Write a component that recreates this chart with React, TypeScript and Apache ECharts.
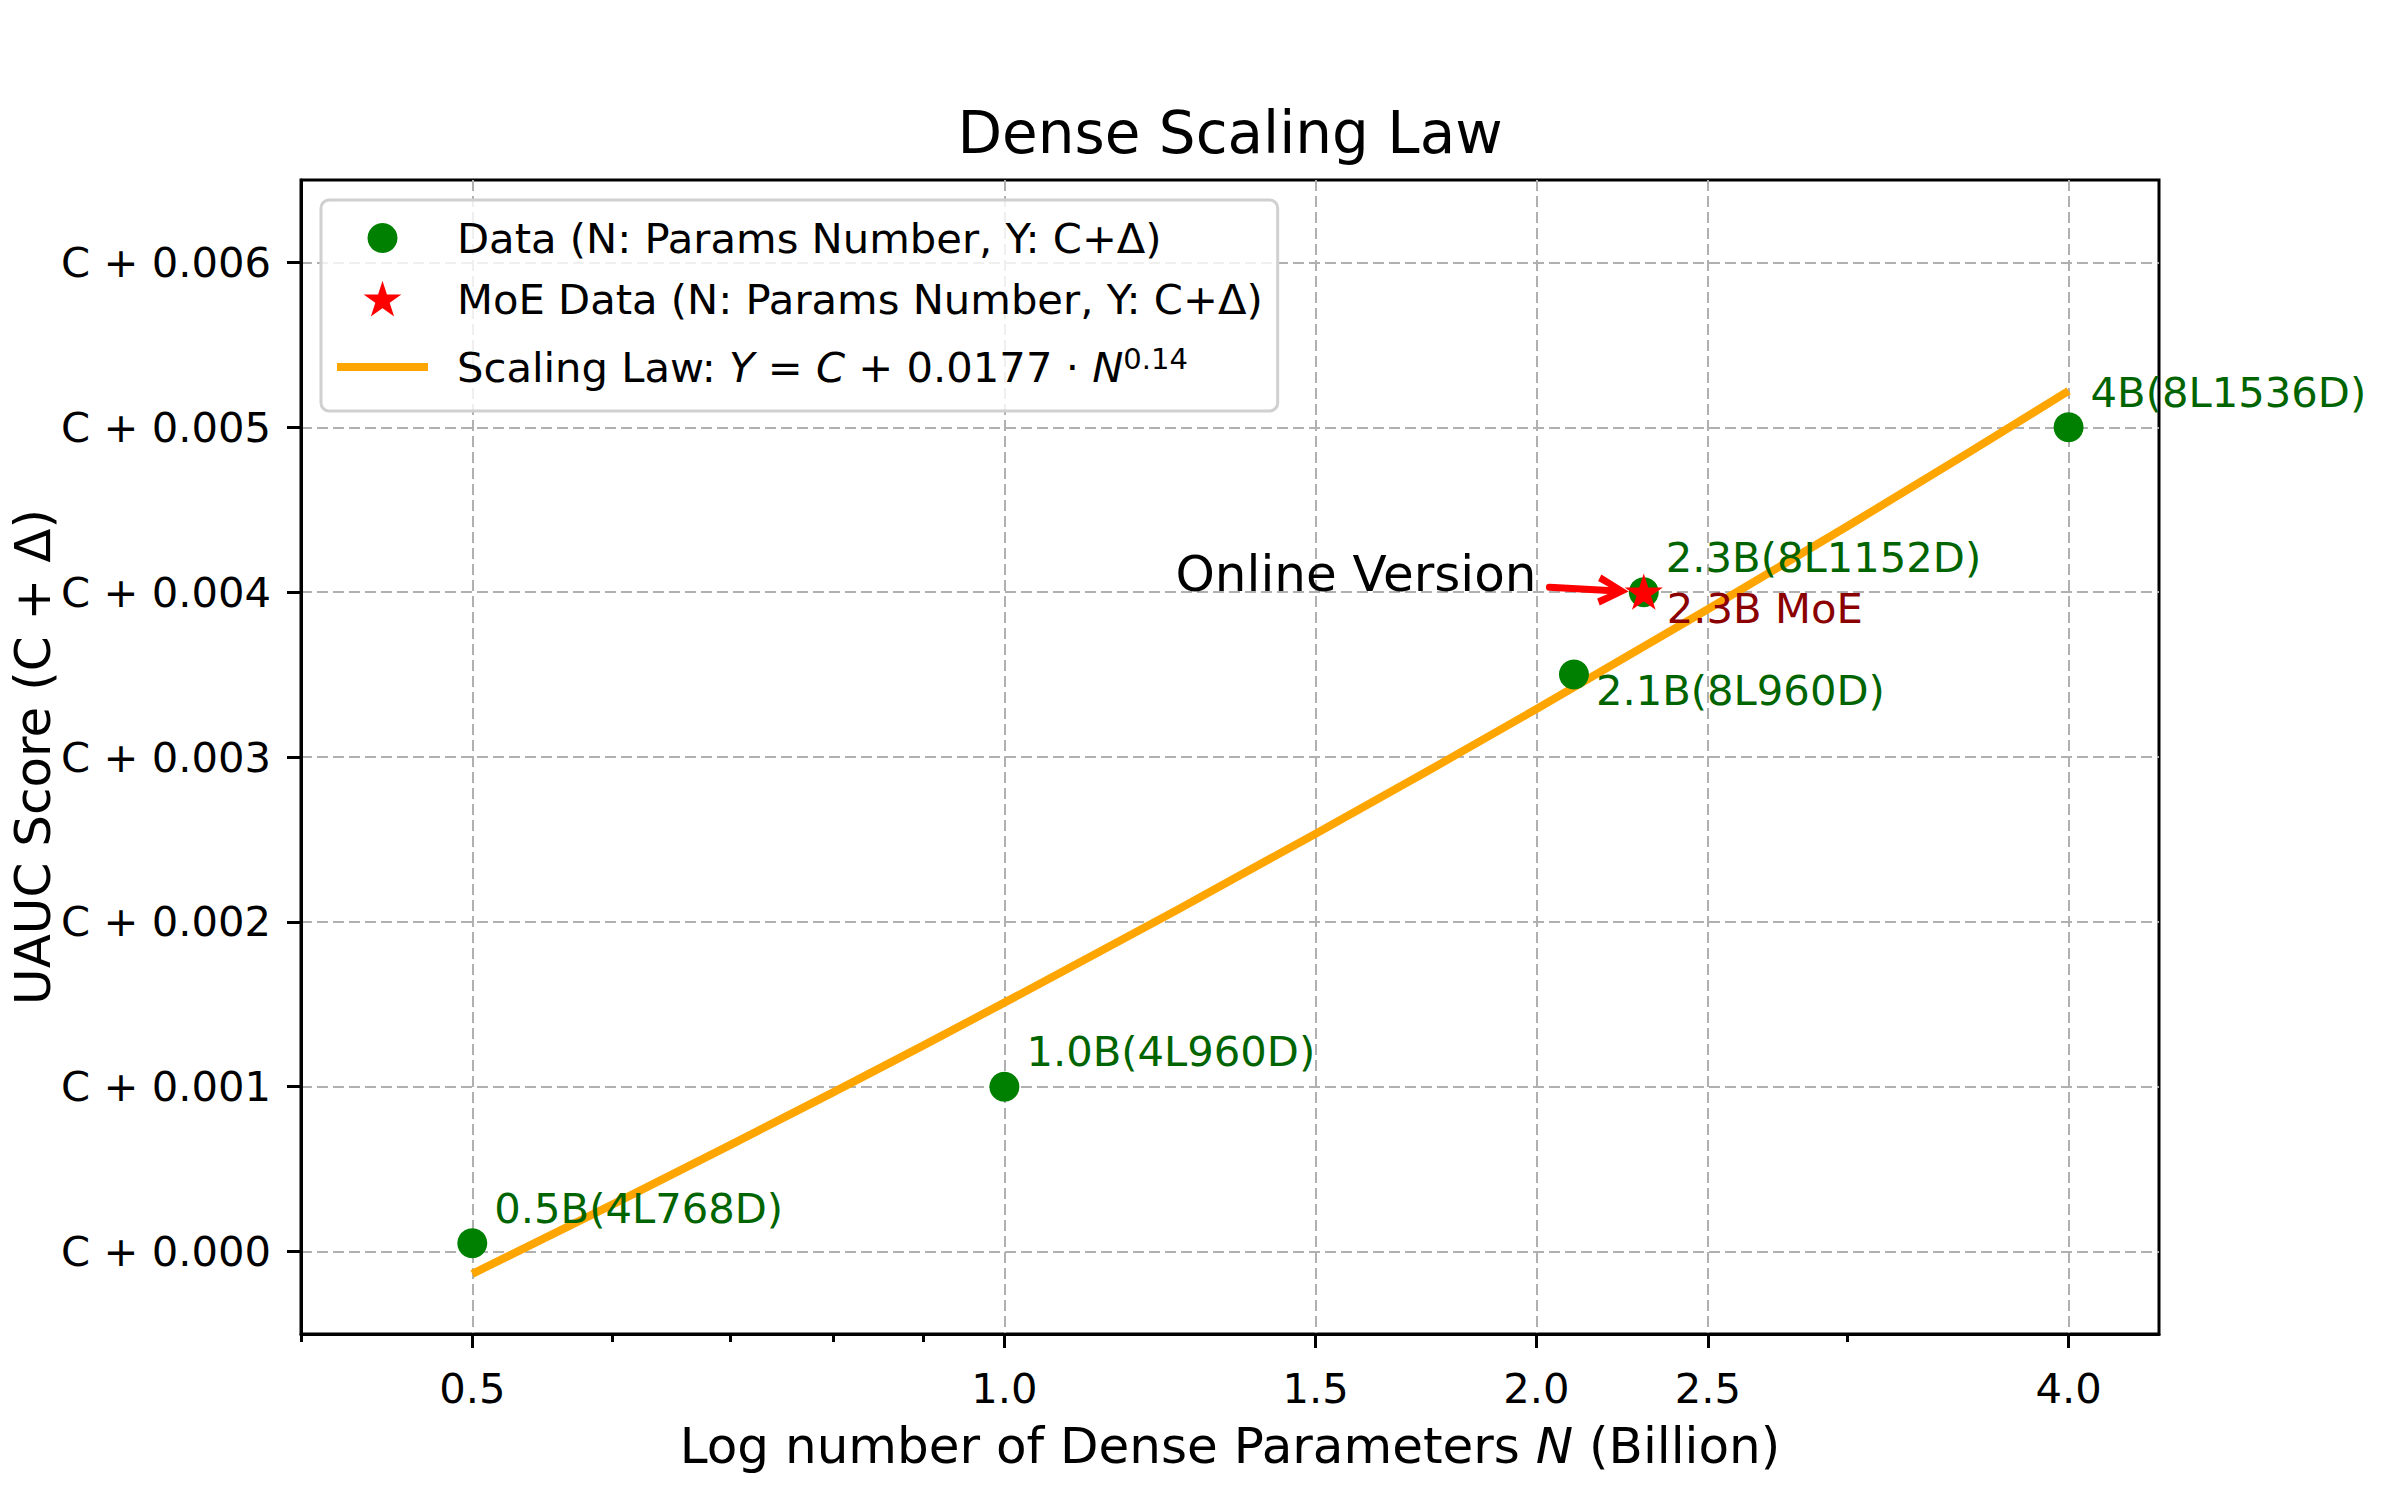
import React, { useEffect, useRef } from "react";
import * as echarts from "echarts";

const FONT = "DejaVu Sans";

const TITLE = "Dense Scaling Law";
const X_NAME = "Log number of Dense Parameters {i|N} (Billion)";
const Y_NAME = "UAUC Score (C + Δ)";

const DATA_NAME = "Data (N: Params Number, Y: C+Δ)";
const MOE_NAME = "MoE Data (N: Params Number, Y: C+Δ)";
const LAW_NAME = "Scaling Law: Y = C + 0.0177 · N^0.14";
const LAW_RICH = "{t|Scaling Law: }{i|Y}{t| = }{i|C}{t| + 0.0177 · }{i|N}{s|0.14}";

// Dense model points
const denseN = [0.5, 1.0, 2.1, 2.3, 4.0];
const denseY = [0.00005, 0.001, 0.0035, 0.004, 0.005];
const denseLabels = ["0.5B(4L768D)", "1.0B(4L960D)", "2.1B(8L960D)", "2.3B(8L1152D)", "4B(8L1536D)"];
const denseLabelBelow = [false, false, true, false, false];

// MoE point
const moeN = [2.3];
const moeY = [0.004];
const moeLabels = ["2.3B MoE"];

// Scaling law curve
const lawN = [0.5, 0.6, 0.7, 0.8, 0.9, 1.0, 1.1, 1.25, 1.5, 1.75, 2.0, 2.5, 3.0, 3.5, 4.0];
const lawY = [
  -0.000135, 0.000285, 0.000647, 0.000966, 0.001251, 0.00151, 0.001747, 0.002068, 0.002535, 0.002937, 0.003291,
  0.003896, 0.004401, 0.004837, 0.005221,
];

// Axes
const xMin = 0.4;
const xMax = 4.5;
const xTicks = [0.5, 1.0, 1.5, 2.0, 2.5, 4.0];
const xMinorTicks = [0.4, 0.6, 0.7, 0.8, 0.9, 3.0];
const yMin = -0.0005;
const yMax = 0.0065;
const yTicks = [0, 0.001, 0.002, 0.003, 0.004, 0.005, 0.006];

// Annotation
const annotationText = "Online Version";
const annotationAt = [2.0, 0.00411];
const arrowFrom = [2.034, 0.00403];
const arrowTo = [2.21, 0.004009];

const STAR =
  "path://M50 0 L61.23 34.55 L97.55 34.55 L68.17 55.9 L79.39 90.45 L50 69.1 L20.61 90.45 L31.83 55.9 L2.45 34.55 L38.77 34.55 Z";
const CHEVRON = "path://M15 0 L29.68 28.54 L23.32 31.46 L15 13.38 L6.68 31.46 L0.32 28.54 Z";

const GRID_LINE = { color: "#b0b0b0", width: 2, type: [11, 5] as any };
const FS = 41.7;

export default function App() {
  const ref = useRef<HTMLDivElement>(null);

  useEffect(() => {
    document.body.style.margin = "0";
    document.body.style.overflow = "hidden";
    if (!ref.current) return;
    const chart = echarts.init(ref.current, null, { renderer: "svg" });

    const option: any = {
      animation: false,
      backgroundColor: "#ffffff",
      textStyle: { fontFamily: FONT },
      title: {
        text: TITLE,
        left: 1230,
        top: 104,
        textAlign: "center",
        padding: 0,
        textStyle: { fontSize: 58, fontWeight: "normal", color: "#000", fontFamily: FONT },
      },
      grid: {
        left: 301,
        right: 241,
        top: 180,
        bottom: 166,
        show: true,
        borderColor: "#000",
        borderWidth: 3,
        backgroundColor: "transparent",
        containLabel: false,
        outerBoundsMode: "none",
      },
      legend: {
        orient: "vertical",
        left: 321,
        top: 200,
        itemWidth: 91,
        itemHeight: 30,
        itemGap: 19,
        padding: [17, 15, 16, 12],
        backgroundColor: "rgba(255,255,255,0.8)",
        borderColor: "#d0d0d0",
        borderWidth: 3,
        borderRadius: 8,
        selectedMode: false,
        z: 10,
        textStyle: {
          fontSize: FS,
          lineHeight: 42,
          color: "#000",
          fontFamily: FONT,
          padding: [0, 0, 0, 24],
          rich: {
            t: { fontSize: FS, lineHeight: 56, color: "#000", fontFamily: FONT },
            i: { fontSize: FS, lineHeight: 56, color: "#000", fontFamily: FONT, fontStyle: "italic" },
            s: { fontSize: 29, lineHeight: 29, color: "#000", fontFamily: FONT, padding: [0, 0, 16, 0] },
          },
        },
        formatter: (name: string) => (name === LAW_NAME ? LAW_RICH : name),
        data: [
          { name: DATA_NAME, icon: "circle" },
          {
            name: MOE_NAME,
            icon: STAR,
            itemStyle: { color: "#FF0000", borderColor: "#FF0000", borderWidth: 2 },
          },
          {
            name: LAW_NAME,
            itemStyle: { opacity: 0, color: "rgba(0,0,0,0)", borderWidth: 0 },
            lineStyle: { width: 8, color: "#FFA500", opacity: 1, cap: "butt" },
          },
        ],
      },
      xAxis: [
        {
          type: "log",
          min: xMin,
          max: xMax,
          gridIndex: 0,
          position: "bottom",
          name: X_NAME,
          nameLocation: "middle",
          nameGap: 87,
          nameMoveOverlap: false,
          nameTextStyle: {
            fontSize: 50,
            color: "#000",
            fontFamily: FONT,
            rich: { i: { fontSize: 50, fontStyle: "italic", color: "#000", fontFamily: FONT } },
          },
          axisLine: { show: true, onZero: false, lineStyle: { color: "#000", width: 3 } },
          axisTick: {
            show: true,
            inside: false,
            length: 14,
            customValues: xTicks,
            lineStyle: { color: "#000", width: 3 },
          },
          axisLabel: {
            show: true,
            customValues: xTicks,
            margin: 33,
            fontSize: FS,
            color: "#000",
            fontFamily: FONT,
            formatter: (v: number) => v.toFixed(1),
          },
          splitLine: { show: true, lineStyle: GRID_LINE },
          minorTick: { show: false },
          minorSplitLine: { show: false },
        },
        {
          type: "log",
          min: xMin,
          max: xMax,
          gridIndex: 0,
          position: "bottom",
          axisLine: { show: false, onZero: false },
          axisLabel: { show: false },
          splitLine: { show: false },
          axisTick: {
            show: true,
            inside: false,
            length: 8,
            customValues: xMinorTicks,
            lineStyle: { color: "#000", width: 3 },
          },
        },
      ],
      yAxis: {
        type: "value",
        min: yMin,
        max: yMax,
        name: Y_NAME,
        nameLocation: "middle",
        nameRotate: 90,
        nameGap: 243,
        nameMoveOverlap: false,
        nameTextStyle: { fontSize: 50, color: "#000", fontFamily: FONT },
        axisLine: { show: true, onZero: false, lineStyle: { color: "#000", width: 3 } },
        axisTick: {
          show: true,
          inside: false,
          length: 14,
          customValues: yTicks,
          lineStyle: { color: "#000", width: 3 },
        },
        axisLabel: {
          show: true,
          customValues: yTicks,
          margin: 30,
          fontSize: FS,
          color: "#000",
          fontFamily: FONT,
          formatter: (v: number) => "C + " + v.toFixed(3),
        },
        splitLine: { show: true, lineStyle: GRID_LINE },
      },
      series: [
        {
          name: LAW_NAME,
          type: "line",
          xAxisIndex: 0,
          yAxisIndex: 0,
          data: lawN.map((n, i) => [n, lawY[i]]),
          symbol: "none",
          showSymbol: false,
          smooth: false,
          z: 2,
          lineStyle: { color: "#FFA500", width: 8, cap: "butt", join: "round" },
          itemStyle: { color: "#FFA500" },
          silent: true,
        },
        {
          name: DATA_NAME,
          type: "scatter",
          xAxisIndex: 0,
          yAxisIndex: 0,
          symbol: "circle",
          symbolSize: 30,
          z: 3,
          itemStyle: { color: "#008000", opacity: 1 },
          data: denseN.map((n, i) => ({
            name: denseLabels[i],
            value: [n, denseY[i]],
            label: { offset: [0, denseLabelBelow[i] ? 16 : -35] },
          })),
          label: {
            show: true,
            position: "right",
            distance: 7,
            formatter: "{b}",
            fontSize: FS,
            color: "#006400",
            fontFamily: FONT,
          },
          silent: true,
        },
        {
          name: MOE_NAME,
          type: "scatter",
          xAxisIndex: 0,
          yAxisIndex: 0,
          symbol: STAR,
          symbolSize: 29,
          symbolKeepAspect: true,
          z: 4,
          itemStyle: { color: "#FF0000", borderColor: "#FF0000", borderWidth: 3, opacity: 1 },
          data: moeN.map((n, i) => ({
            name: moeLabels[i],
            value: [n, moeY[i]],
            label: { offset: [0, 16] },
          })),
          label: {
            show: true,
            position: "right",
            distance: 7,
            formatter: "{b}",
            fontSize: FS,
            color: "#8B0000",
            fontFamily: FONT,
          },
          markLine: {
            silent: true,
            symbol: ["none", CHEVRON],
            symbolSize: 31,
            label: { show: false },
            itemStyle: { color: "#FF0000", borderWidth: 0 },
            lineStyle: { color: "#FF0000", width: 7, type: "solid", cap: "round" },
            data: [[{ coord: arrowFrom }, { coord: arrowTo }]],
          },
          markPoint: {
            silent: true,
            symbol: "circle",
            symbolSize: 0,
            itemStyle: { color: "transparent", borderWidth: 0 },
            label: {
              show: true,
              position: "left",
              distance: 0,
              formatter: annotationText,
              fontSize: 50,
              color: "#000",
              fontFamily: FONT,
            },
            data: [{ coord: annotationAt, value: annotationText }],
          },
          silent: true,
        },
      ],
    };

    chart.setOption(option);
    return () => chart.dispose();
  }, []);

  return <div ref={ref} style={{ width: 2400, height: 1500 }} />;
}
